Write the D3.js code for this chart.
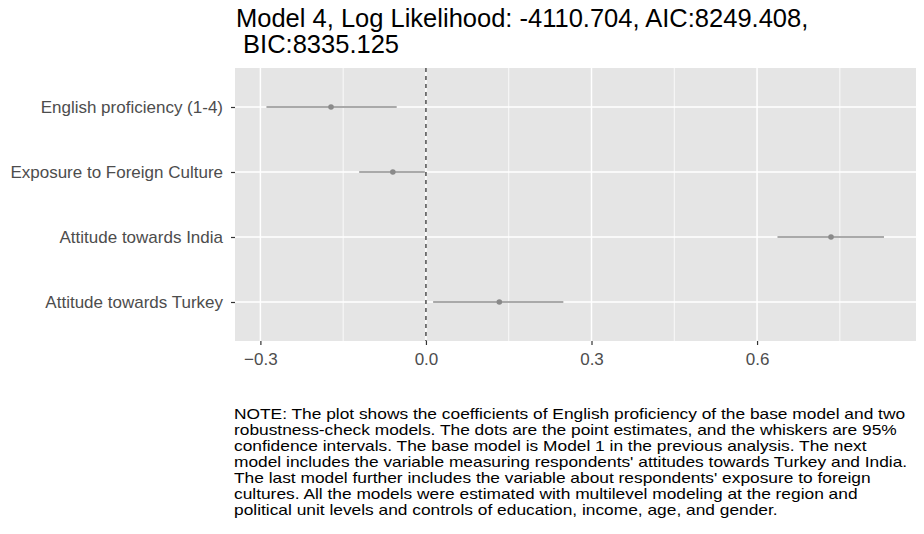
<!DOCTYPE html>
<html>
<head>
<meta charset="utf-8">
<script src="https://cdn.jsdelivr.net/npm/d3@7"></script>
<style>
  body { margin: 0; background: #fff; }
  text { font-family: "Liberation Sans", Arial, sans-serif; }
</style>
</head>
<body>
<div id="chart"></div>
<script>
// coefficient estimates
var terms = ["English proficiency (1-4)", "Exposure to Foreign Culture", "Attitude towards India", "Attitude towards Turkey"];
var estimates = [-0.172, -0.060, 0.734, 0.133];
var lower = [-0.289, -0.121, 0.637, 0.013];
var upper = [-0.053, -0.002, 0.830, 0.249];
var xTicks = [-0.3, 0.0, 0.3, 0.6];
var xMinor = [-0.15, 0.15, 0.45, 0.75];

var titleLines = ["Model 4, Log Likelihood: -4110.704, AIC:8249.408,", " BIC:8335.125"];
var noteLines = [
  "NOTE: The plot shows the coefficients of English proficiency of the base model and two",
  "robustness-check models. The dots are the point estimates, and the whiskers are 95%",
  "confidence intervals. The base model is Model 1 in the previous analysis. The next",
  "model includes the variable measuring respondents' attitudes towards Turkey and India.",
  "The last model further includes the variable about respondents' exposure to foreign",
  "cultures. All the models were estimated with multilevel modeling at the region and",
  "political unit levels and controls of education, income, age, and gender."
];

var W = 924, H = 534;
var panel = {left: 235, right: 916, top: 68, bottom: 341};

var svg = d3.select("#chart").append("svg")
  .attr("width", W).attr("height", H);

var x = d3.scaleLinear().domain([-0.346, 0.888]).range([panel.left, panel.right]);
var y = d3.scalePoint().domain(terms).range([panel.top, panel.bottom]).padding(0.6);

// panel background
svg.append("rect")
  .attr("x", panel.left).attr("y", panel.top)
  .attr("width", panel.right - panel.left).attr("height", panel.bottom - panel.top)
  .attr("fill", "#e5e5e5");

// grid
svg.selectAll(".minor").data(xMinor).enter().append("line")
  .attr("x1", d => x(d)).attr("x2", d => x(d))
  .attr("y1", panel.top).attr("y2", panel.bottom)
  .attr("stroke", "#fff").attr("stroke-width", 0.8);
svg.selectAll(".major").data(xTicks).enter().append("line")
  .attr("x1", d => x(d)).attr("x2", d => x(d))
  .attr("y1", panel.top).attr("y2", panel.bottom)
  .attr("stroke", "#fff").attr("stroke-width", 1.5);
svg.selectAll(".hgrid").data(terms).enter().append("line")
  .attr("x1", panel.left).attr("x2", panel.right)
  .attr("y1", d => y(d)).attr("y2", d => y(d))
  .attr("stroke", "#fff").attr("stroke-width", 1.5);

// zero reference line
svg.append("line")
  .attr("x1", x(0)).attr("x2", x(0))
  .attr("y1", panel.top).attr("y2", panel.bottom)
  .attr("stroke", "#333").attr("stroke-width", 1.3)
  .attr("stroke-dasharray", "4,4");

// whiskers
svg.selectAll(".ci").data(terms).enter().append("line")
  .attr("x1", (d, i) => x(lower[i])).attr("x2", (d, i) => x(upper[i]))
  .attr("y1", d => y(d)).attr("y2", d => y(d))
  .attr("stroke", "#8e8e8e").attr("stroke-width", 1.4);

// points
svg.selectAll(".pt").data(terms).enter().append("circle")
  .attr("cx", (d, i) => x(estimates[i])).attr("cy", d => y(d))
  .attr("r", 2.8).attr("fill", "#8a8a8a");

// axes
var xAxis = svg.append("g")
  .attr("transform", "translate(0," + panel.bottom + ")")
  .call(d3.axisBottom(x).tickValues(xTicks).tickFormat(d3.format(".1f")).tickSize(4).tickPadding(8));
var yAxis = svg.append("g")
  .attr("transform", "translate(" + panel.left + ",0)")
  .call(d3.axisLeft(y).tickSize(4).tickPadding(8));
[xAxis, yAxis].forEach(function (g) {
  g.select(".domain").remove();
  g.selectAll(".tick line").attr("stroke", "#333").attr("stroke-width", 1.2);
  g.selectAll(".tick text").attr("fill", "#4d4d4d").style("font-size", "17px")
    .style("font-family", "'Liberation Sans', Arial, sans-serif");
});

// title
svg.append("g").selectAll("text").data(titleLines).enter().append("text")
  .attr("x", 236).attr("y", (d, i) => 27 + i * 26)
  .attr("fill", "#000").style("font-size", "25.5px")
  .style("white-space", "pre")
  .text(d => d);

// note (glyphs are wide and tightly spaced in the original, so stretch horizontally)
svg.append("g")
  .attr("transform", "translate(234,0) scale(1.24,1)")
  .selectAll("text").data(noteLines).enter().append("text")
  .attr("x", 0).attr("y", (d, i) => 419 + i * 16)
  .attr("fill", "#000").style("font-size", "14px")
  .text(d => d);
</script>
</body>
</html>
